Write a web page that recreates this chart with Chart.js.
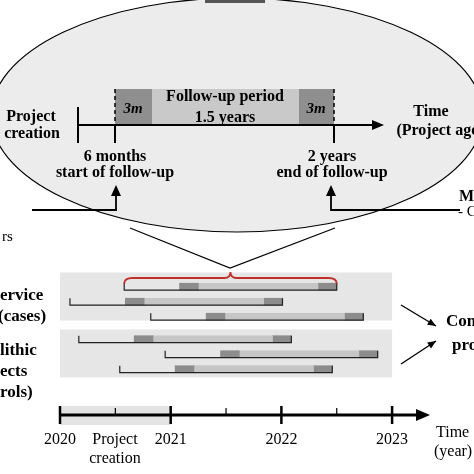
<!DOCTYPE html>
<html>
<head>
<meta charset="utf-8">
<script src="https://cdn.jsdelivr.net/npm/chart.js@4"></script>
<style>
  html, body { margin: 0; padding: 0; background: #fff; }
  #wrap { width: 474px; height: 474px; }
</style>
</head>
<body>
<div id="wrap"><canvas id="chart"></canvas></div>
<script>
// creation year of each project (fractional years)
const caseCreation = [2020.58, 2020.09, 2020.82];
const controlCreation = [2020.17, 2020.95, 2020.54];
const caseRows = [0, 1, 2];
const controlRows = [3.5, 4.5, 5.5];
const axisYears = [2020, 2021, 2022, 2023];
const followStart = 0.5;   // years after creation
const followEnd = 1.92;
const edgeWindow = 0.17;   // 3 months as drawn

const allCreation = caseCreation.concat(controlCreation);
const allRows = caseRows.concat(controlRows);

function seg(from, to) {
  return allCreation.map((c, i) => ({ y: allRows[i], x: [c + from, c + to] }));
}

const FONT = '"Liberation Serif", "DejaVu Serif", serif';

const diagram = {
  id: 'diagram',
  beforeDatasetsDraw(chart) {
    const { ctx } = chart;
    const x = chart.scales.x, y = chart.scales.y;
    ctx.save();
    ctx.fillStyle = '#e6e6e6';
    const x0 = x.getPixelForValue(2020), x3 = x.getPixelForValue(2023);
    ctx.fillRect(x0, y.getPixelForValue(-0.95), x3 - x0, y.getPixelForValue(2.25) - y.getPixelForValue(-0.95));
    ctx.fillRect(x0, y.getPixelForValue(2.85), x3 - x0, y.getPixelForValue(6.05) - y.getPixelForValue(2.85));
    ctx.restore();
  },
  afterDatasetsDraw(chart) {
    const { ctx } = chart;
    const x = chart.scales.x, y = chart.scales.y;
    ctx.save();
    // project lines
    ctx.strokeStyle = '#222'; ctx.lineWidth = 1.2;
    allCreation.forEach((c, i) => {
      const py = y.getPixelForValue(allRows[i]) + 3.5;
      const a = x.getPixelForValue(c), b = x.getPixelForValue(c + followEnd);
      ctx.beginPath();
      ctx.moveTo(a, py - 7); ctx.lineTo(a, py); ctx.lineTo(b, py); ctx.lineTo(b, py - 7);
      ctx.stroke();
    });

    // bottom axis
    const ay = 415;
    const x0 = x.getPixelForValue(2020), x1 = x.getPixelForValue(2021);
    ctx.fillStyle = '#e3e3e3';
    ctx.fillRect(x0, 406, x1 - x0, 19);
    ctx.strokeStyle = '#000'; ctx.lineWidth = 3;
    ctx.beginPath(); ctx.moveTo(x0, ay); ctx.lineTo(420, ay); ctx.stroke();
    ctx.fillStyle = '#000';
    ctx.beginPath(); ctx.moveTo(430, ay); ctx.lineTo(416, ay - 6); ctx.lineTo(416, ay + 6); ctx.closePath(); ctx.fill();
    ctx.font = '16px ' + FONT; ctx.textAlign = 'center'; ctx.textBaseline = 'middle';
    axisYears.forEach(yr => {
      const px = x.getPixelForValue(yr);
      ctx.lineWidth = 2.5;
      ctx.beginPath(); ctx.moveTo(px, ay - 9); ctx.lineTo(px, ay + 9); ctx.stroke();
      ctx.fillText(String(yr), px, 440);
      if (yr < 2023) {
        const hx = x.getPixelForValue(yr + 0.5);
        ctx.lineWidth = 1.2;
        ctx.beginPath(); ctx.moveTo(hx, ay - 7); ctx.lineTo(hx, ay); ctx.stroke();
      }
    });
    ctx.fillText('Project', 115, 440);
    ctx.fillText('creation', 115, 459);
    ctx.textAlign = 'left';
    ctx.fillText('Time', 436, 433);
    ctx.fillText('(year)', 434, 452);

    // red bracket
    const ba = x.getPixelForValue(caseCreation[0]), bb = x.getPixelForValue(caseCreation[0] + followEnd);
    const bm = (ba + bb) / 2;
    ctx.strokeStyle = '#c0302a'; ctx.lineWidth = 1.8;
    ctx.beginPath();
    ctx.moveTo(ba, 284); ctx.quadraticCurveTo(ba, 278, ba + 8, 278);
    ctx.lineTo(bm - 6, 278); ctx.quadraticCurveTo(bm, 278, bm, 272);
    ctx.quadraticCurveTo(bm, 278, bm + 6, 278);
    ctx.lineTo(bb - 8, 278); ctx.quadraticCurveTo(bb, 278, bb, 284);
    ctx.stroke();

    // left / right labels
    ctx.fillStyle = '#000'; ctx.font = 'bold 17px ' + FONT; ctx.textAlign = 'left';
    ctx.fillText('ervice', 0, 296);
    ctx.fillText('(cases)', -2, 317);
    ctx.fillText('lithic', 0, 351);
    ctx.fillText('ects', 0, 372);
    ctx.fillText('rols)', 0, 393);
    ctx.fillText('Com', 446, 322);
    ctx.fillText('pro', 452, 346);
    ctx.strokeStyle = '#000'; ctx.lineWidth = 1.4;
    [[401, 305, 436, 326], [401, 364, 436, 341]].forEach(([ax, ay1, bx, by]) => {
      ctx.beginPath(); ctx.moveTo(ax, ay1); ctx.lineTo(bx, by); ctx.stroke();
      const ang = Math.atan2(by - ay1, bx - ax);
      ctx.beginPath();
      ctx.moveTo(bx, by);
      ctx.lineTo(bx - 9 * Math.cos(ang - 0.4), by - 9 * Math.sin(ang - 0.4));
      ctx.lineTo(bx - 9 * Math.cos(ang + 0.4), by - 9 * Math.sin(ang + 0.4));
      ctx.closePath(); ctx.fill();
    });

    // zoom cone + ellipse
    ctx.lineWidth = 1.2;
    ctx.beginPath(); ctx.moveTo(130, 228); ctx.lineTo(230, 268); ctx.lineTo(335, 228); ctx.stroke();
    ctx.beginPath(); ctx.ellipse(237, 115, 246, 117, 0, 0, Math.PI * 2);
    ctx.fillStyle = '#ececec'; ctx.fill(); ctx.stroke();
    ctx.fillStyle = '#555'; ctx.fillRect(205, 0, 60, 3);

    // follow-up box
    ctx.fillStyle = '#8f8f8f';
    ctx.fillRect(115, 89, 37, 36); ctx.fillRect(299, 89, 35, 36);
    ctx.fillStyle = '#c9c9c9'; ctx.fillRect(152, 89, 147, 36);
    ctx.strokeStyle = '#000'; ctx.lineWidth = 1.5; ctx.setLineDash([4, 3]);
    ctx.beginPath(); ctx.moveTo(115, 89); ctx.lineTo(115, 125); ctx.moveTo(334, 89); ctx.lineTo(334, 125); ctx.stroke();
    ctx.setLineDash([]);
    ctx.lineWidth = 2;
    ctx.beginPath(); ctx.moveTo(78, 125); ctx.lineTo(375, 125); ctx.stroke();
    ctx.fillStyle = '#000';
    ctx.beginPath(); ctx.moveTo(384, 125); ctx.lineTo(372, 120); ctx.lineTo(372, 130); ctx.closePath(); ctx.fill();
    ctx.beginPath();
    ctx.moveTo(78, 107); ctx.lineTo(78, 143);
    ctx.moveTo(115, 125); ctx.lineTo(115, 143);
    ctx.moveTo(334, 125); ctx.lineTo(334, 143);
    ctx.stroke();

    ctx.textAlign = 'center';
    ctx.font = 'italic bold 15px ' + FONT;
    ctx.fillText('3m', 133, 109); ctx.fillText('3m', 316, 109);
    ctx.font = 'bold 16px ' + FONT;
    ctx.fillText('Follow-up period', 225, 97);
    ctx.fillText('1.5 years', 225, 118);
    ctx.fillText('Project', 31, 117);
    ctx.fillText('creation', 32, 134);
    ctx.fillText('Time', 431, 112);
    ctx.fillText('(Project age)', 440, 131);
    ctx.fillText('6 months', 115, 157);
    ctx.fillText('start of follow-up', 115, 173);
    ctx.fillText('2 years', 332, 157);
    ctx.fillText('end of follow-up', 332, 173);
    ctx.textAlign = 'left';
    ctx.fillText('M', 459, 197);
    ctx.font = '15px ' + FONT;
    ctx.fillText('- C', 458, 212);
    ctx.fillText('rs', 2, 237);

    // arrows into the ellipse
    ctx.lineWidth = 1.8;
    ctx.beginPath(); ctx.moveTo(32, 210); ctx.lineTo(116, 210); ctx.lineTo(116, 192); ctx.stroke();
    ctx.beginPath(); ctx.moveTo(460, 210); ctx.lineTo(331, 210); ctx.lineTo(331, 192); ctx.stroke();
    [116, 331].forEach(px => {
      ctx.beginPath(); ctx.moveTo(px, 185); ctx.lineTo(px - 5, 196); ctx.lineTo(px + 5, 196); ctx.closePath(); ctx.fill();
    });
    ctx.restore();
  }
};

new Chart(document.getElementById('chart'), {
  type: 'bar',
  data: {
    datasets: [
      { data: seg(followStart, followStart + edgeWindow), backgroundColor: '#8c8c8c' },
      { data: seg(followStart + edgeWindow, followEnd - edgeWindow), backgroundColor: '#c6c6c6' },
      { data: seg(followEnd - edgeWindow, followEnd), backgroundColor: '#8c8c8c' }
    ]
  },
  options: {
    responsive: true,
    maintainAspectRatio: false,
    animation: false,
    indexAxis: 'y',
    layout: { padding: 0 },
    datasets: { bar: { barThickness: 7, grouped: false } },
    scales: {
      x: { type: 'linear', min: 2019.458, max: 2023.74, display: false },
      y: { type: 'linear', min: -16.86, max: 10.23, reverse: true, display: false }
    },
    plugins: { legend: { display: false }, tooltip: { enabled: false } }
  },
  plugins: [diagram]
});
</script>
</body>
</html>
